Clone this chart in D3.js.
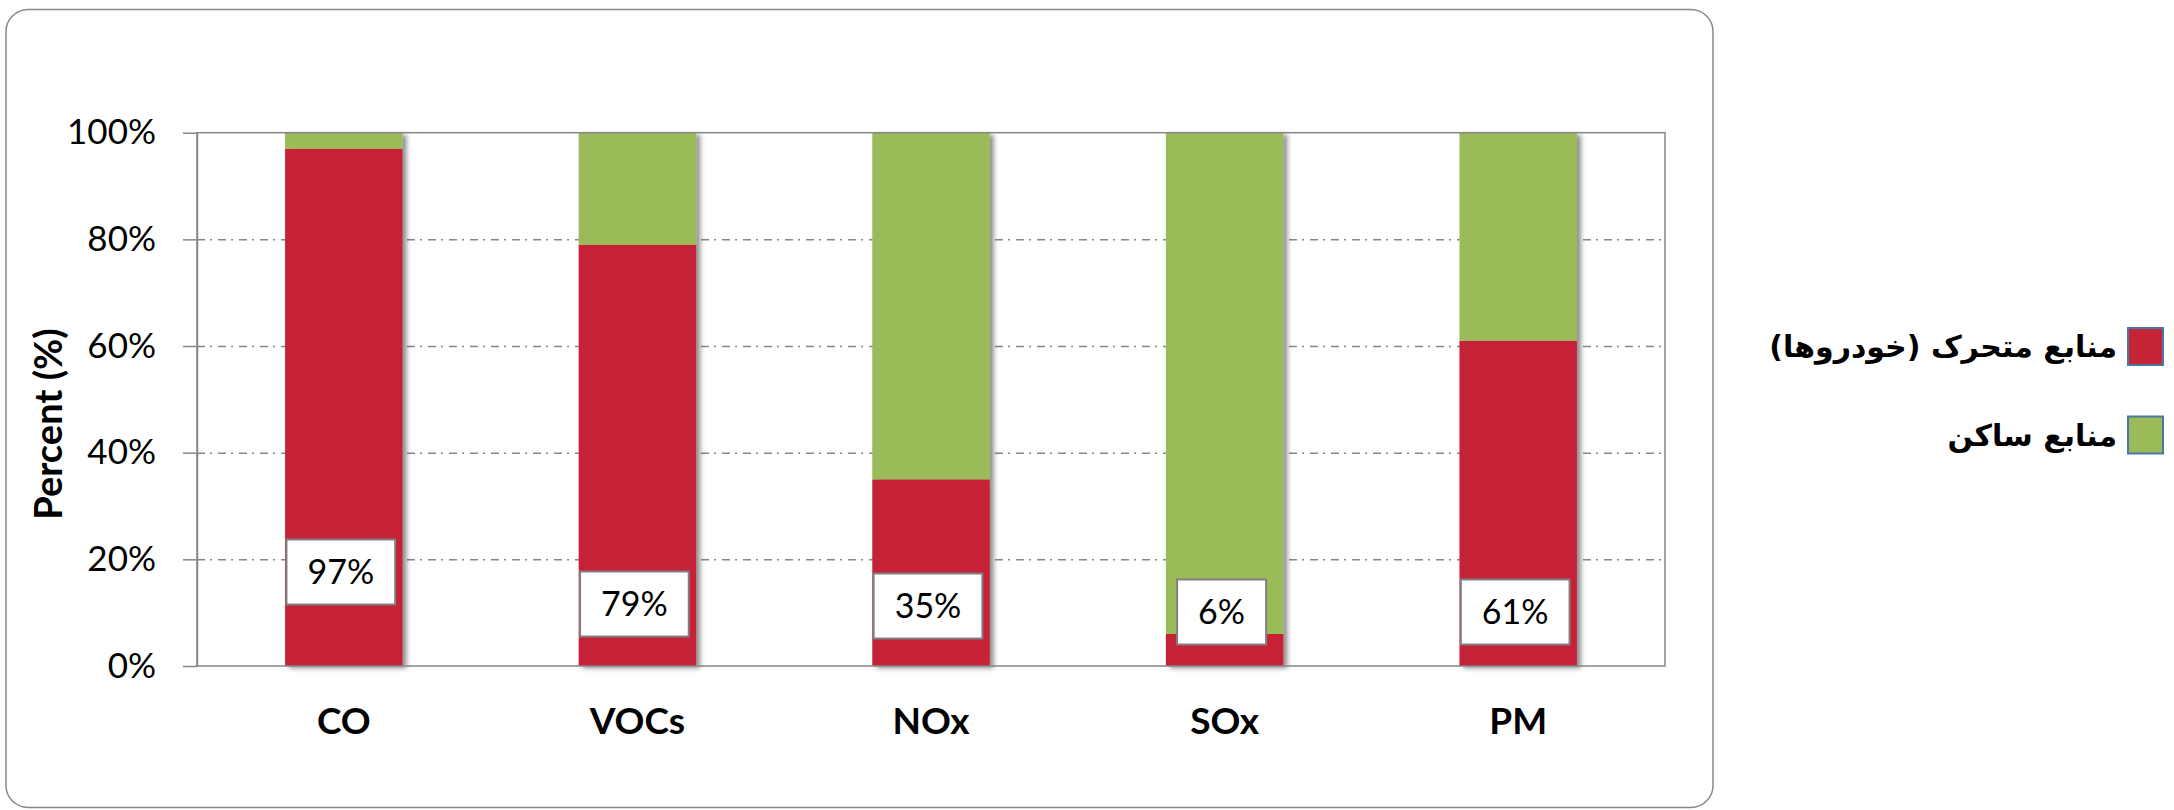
<!DOCTYPE html>
<html>
<head>
<meta charset="utf-8">
<script src="https://cdn.jsdelivr.net/npm/d3@7"></script>
<style>
  body { margin: 0; background: #fff; }
  svg { display: block; }
</style>
</head>
<body>
<div id="chart"></div>
<script>
// data
var categories = ["CO", "VOCs", "NOx", "SOx", "PM"];
var mobile = [97, 79, 35, 6, 61];        // منابع متحرک (خودروها)
var stationary = [3, 21, 65, 94, 39];    // منابع ساکن
var seriesNames = ["منابع متحرک (خودروها)", "منابع ساکن"];
var yTicks = [0, 20, 40, 60, 80, 100];

// layout
var W = 2174, H = 810;
var plot = {left: 197, top: 132.7, right: 1665, bottom: 666};
var colors = ["#C52437", "#9BBB59"];
var grey = "#878787";
// the data labels were dragged by hand, lift of box centre above the base (px)
var labelLift = [94, 62, 60, 54, 54];

var svg = d3.select("#chart").append("svg")
    .attr("width", W)
    .attr("height", H);

var defs = svg.append("defs");
defs.append("filter")
    .attr("id", "shadow")
    .attr("x", "-20%").attr("y", "-5%")
    .attr("width", "140%").attr("height", "110%")
  .append("feDropShadow")
    .attr("dx", 4).attr("dy", 2)
    .attr("stdDeviation", 2.5)
    .attr("flood-color", "#000")
    .attr("flood-opacity", 0.45);

// outer chart frame
svg.append("rect")
    .attr("x", 6).attr("y", 9.5)
    .attr("width", 1707).attr("height", 798)
    .attr("rx", 22).attr("ry", 22)
    .style("fill", "#fff")
    .style("stroke", "#898989")
    .style("stroke-width", 1.5);

var pw = plot.right - plot.left, ph = plot.bottom - plot.top;
var g = svg.append("g").attr("transform", "translate(" + plot.left + "," + plot.top + ")");

var x = d3.scaleBand().domain(categories).range([0, pw]).padding(0);
var y = d3.scaleLinear().domain([0, 100]).range([ph, 0]);

// gridlines (dash-dot)
var grid = g.append("g")
    .call(d3.axisLeft(y).tickValues(yTicks.slice(1, -1)).tickSize(-pw).tickFormat(""));
grid.select(".domain").remove();
grid.selectAll("line")
    .style("stroke", grey)
    .style("stroke-width", 1.5)
    .style("stroke-dasharray", "8,5,2,6");

// stacked bars
var rows = categories.map(function(c, i){
    return {cat: c, mobile: mobile[i], stationary: stationary[i]};
});
var stack = d3.stack().keys(["mobile", "stationary"])(rows);

var bw = x.bandwidth() * 0.4;
var cols = g.selectAll(".col")
    .data(rows)
    .enter().append("g")
    .attr("class", "col")
    .attr("filter", "url(#shadow)");

cols.each(function(d, i){
    var col = d3.select(this);
    stack.forEach(function(s, k){
        col.append("rect")
            .attr("x", x(d.cat) + (x.bandwidth() - bw) / 2)
            .attr("width", bw)
            .attr("y", y(s[i][1]))
            .attr("height", y(s[i][0]) - y(s[i][1]))
            .style("fill", colors[k]);
    });
});

// plot area border
g.append("rect")
    .attr("width", pw).attr("height", ph)
    .style("fill", "none")
    .style("stroke", grey)
    .style("stroke-width", 1.5);

// y axis
var yAxis = g.append("g")
    .call(d3.axisLeft(y).tickValues(yTicks).tickSizeInner(14).tickSizeOuter(0)
        .tickPadding(27).tickFormat(function(d){ return d + "%"; }));
yAxis.select(".domain").style("stroke", grey).style("stroke-width", 1.5);
yAxis.selectAll("line").style("stroke", grey).style("stroke-width", 1.5);
yAxis.selectAll("text")
    .style("font-family", "Lato, 'Open Sans', sans-serif")
    .style("font-size", "35px")
    .style("fill", "#000");

// x axis
var xAxis = g.append("g")
    .attr("transform", "translate(0," + ph + ")")
    .call(d3.axisBottom(x).tickSize(0).tickPadding(42));
xAxis.select(".domain").remove();
xAxis.selectAll("text")
    .style("font-family", "Lato, 'Open Sans', sans-serif")
    .style("font-size", "37px")
    .style("font-weight", "bold")
    .style("fill", "#000");

// y title
svg.append("text")
    .attr("transform", "translate(62,424) rotate(-90)")
    .attr("text-anchor", "middle")
    .style("font-family", "Lato, 'Open Sans', sans-serif")
    .style("font-size", "38px")
    .style("font-weight", "bold")
    .text("Percent (%)");

// data labels
var labels = g.selectAll(".lbl")
    .data(rows)
    .enter().append("g")
    .attr("class", "lbl")
    .attr("transform", function(d, i){
        return "translate(" + (x(d.cat) + x.bandwidth() / 2 - 3) + "," + (ph - labelLift[i]) + ")";
    });
labels.append("rect");
labels.append("text")
    .attr("text-anchor", "middle")
    .attr("dy", "0.36em")
    .style("font-family", "Lato, 'Open Sans', sans-serif")
    .style("font-size", "34px")
    .style("fill", "#000")
    .text(function(d){ return d.mobile + "%"; });
labels.each(function(){
    var t = d3.select(this).select("text").node().getBBox();
    var bwid = t.width + 42;
    d3.select(this).select("rect")
        .attr("x", -bwid / 2).attr("y", -32.5)
        .attr("width", bwid).attr("height", 65)
        .style("fill", "#fff")
        .style("stroke", "#808080")
        .style("stroke-width", 2);
});

// legend
var legend = svg.append("g").attr("transform", "translate(2128,328)");
var items = legend.selectAll(".item")
    .data(seriesNames)
    .enter().append("g")
    .attr("transform", function(d, i){ return "translate(0," + (i * 88.5) + ")"; });
items.append("rect")
    .attr("width", 35).attr("height", 37)
    .style("fill", function(d, i){ return colors[i]; })
    .style("stroke", "#4A76A8")
    .style("stroke-width", 2);
items.append("text")
    .attr("x", -11).attr("y", 29)
    .attr("text-anchor", "start")
    .attr("direction", "rtl")
    .style("font-family", "'DejaVu Sans', sans-serif")
    .style("font-size", "30px")
    .style("font-weight", "bold")
    .text(function(d){ return d; });
</script>
</body>
</html>
